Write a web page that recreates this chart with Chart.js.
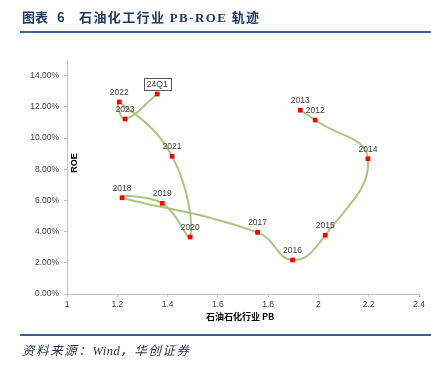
<!DOCTYPE html>
<html>
<head>
<meta charset="utf-8">
<script src="https://cdn.jsdelivr.net/npm/chart.js@4.4.1/dist/chart.umd.min.js"></script>
<style>
  html, body { margin:0; padding:0; background:#fff; }
  #wrap { position:relative; width:431px; height:366px; overflow:hidden; }
  #c { position:absolute; left:0; top:0; }
  .t { position:absolute; white-space:nowrap; font-family:"Noto Sans CJK SC", sans-serif; font-weight:700; font-size:13px; color:#1f3a60; line-height:1; }
  .rule { position:absolute; left:20px; right:0; height:2px; background:#3a5e9c; }
  #src { position:absolute; left:22px; top:344px; white-space:nowrap; font-family:"Noto Sans CJK SC", sans-serif; font-style:italic; font-size:12.5px; letter-spacing:1.6px; color:#1f2d50; line-height:1; }
</style>
</head>
<body>
<div id="wrap">
  <canvas id="c" width="431" height="366"></canvas>
  <div class="t" style="left:22px; top:10px;">图表</div>
  <div class="t" style="left:57px; top:10px;">6</div>
  <div class="t" style="left:79px; top:10px; letter-spacing:1.4px;">石油化工行业 <span style="font-family:'Liberation Serif',serif;">PB-ROE</span> 轨迹</div>
  <div class="rule" style="top:31px;"></div>
  <div class="rule" style="top:334px;"></div>
  <div id="src">资料来源：<span style="font-family:'Liberation Serif',serif; letter-spacing:0.5px;">Wind</span>，华创证券</div>
</div>
<script>
// Point labels (in drawing order of the trajectory)
const pointLabels = ['2013','2012','2014','2015','2016','2017','2018','2019','2020','2021','2022','2023','24Q1'];
// PB (x)
const pbValues = [1.928, 1.987, 2.197, 2.027, 1.897, 1.758, 1.219, 1.379, 1.490, 1.418, 1.208, 1.231, 1.359];
// ROE in percent (y)
const roeValues = [11.78, 11.15, 8.67, 3.76, 2.18, 3.95, 6.17, 5.81, 3.65, 8.83, 12.31, 11.22, 12.82];
// Axis ticks
const xTickValues = [1, 1.2, 1.4, 1.6, 1.8, 2, 2.2, 2.4];
const yTickValues = [0, 2, 4, 6, 8, 10, 12, 14];
const xAxisTitle = '石油石化行业 PB';
const yAxisTitle = 'ROE';
const boxedLabel = '24Q1';

const points = pbValues.map((x, i) => ({ x: x, y: roeValues[i] }));

const labelPlugin = {
  id: 'labels',
  afterDatasetsDraw(chart) {
    const ctx = chart.ctx;
    const meta = chart.getDatasetMeta(0);
    ctx.save();
    ctx.font = '8.5px "Liberation Sans", Arial, sans-serif';
    ctx.textAlign = 'center';
    ctx.textBaseline = 'middle';
    meta.data.forEach((el, i) => {
      const txt = pointLabels[i];
      const x = el.x, y = el.y - 10;
      if (txt === boxedLabel) {
        const w = ctx.measureText(txt).width + 6;
        const h = 12;
        ctx.fillStyle = '#ffffff';
        ctx.fillRect(Math.round(x - w / 2) + 0.5, Math.round(y - h / 2) + 0.5, Math.round(w), h);
        ctx.strokeStyle = '#595959';
        ctx.lineWidth = 1;
        ctx.strokeRect(Math.round(x - w / 2) + 0.5, Math.round(y - h / 2) + 0.5, Math.round(w), h);
      }
      ctx.fillStyle = '#404040';
      ctx.fillText(txt, x, y + 0.5);
    });
    // axis titles
    const xs = chart.scales.x, ys = chart.scales.y;
    ctx.fillStyle = '#000';
    ctx.font = 'bold 9px "Noto Sans CJK SC", sans-serif';
    ctx.fillText(xAxisTitle, (xs.left + xs.right) / 2 - 3, xs.top + 23);
    ctx.save();
    ctx.translate(xs.left + 8, ys.getPixelForValue(8.4));
    ctx.rotate(-Math.PI / 2);
    ctx.font = 'bold 9px "Liberation Sans", Arial, sans-serif';
    ctx.fillText(yAxisTitle, 0, 0);
    ctx.restore();
    ctx.restore();
  }
};

new Chart(document.getElementById('c'), {
  type: 'scatter',
  data: {
    datasets: [{
      data: points,
      showLine: true,
      tension: 0.45,
      borderColor: '#aac681',
      borderWidth: 2,
      pointStyle: 'rect',
      pointRadius: 3.3,
      pointHoverRadius: 3.3,
      pointBackgroundColor: '#ff0000',
      pointBorderColor: '#ff0000',
      pointBorderWidth: 0
    }]
  },
  options: {
    responsive: false,
    animation: false,
    events: [],
    layout: { padding: { left: 0, top: 60, right: 12, bottom: 42 } },
    plugins: { legend: { display: false }, tooltip: { enabled: false } },
    scales: {
      x: {
        type: 'linear',
        min: 1, max: 2.4,
        afterBuildTicks: (s) => { s.ticks = xTickValues.map(v => ({ value: v })); },
        afterFit: (s) => { s.height = 30; },
        ticks: {
          callback: (v) => String(parseFloat(Number(v).toFixed(1))),
          font: { family: '"Liberation Sans", Arial, sans-serif', size: 8.5 },
          color: '#404040',
          padding: 3,
          maxRotation: 0
        },
        grid: { drawOnChartArea: false, drawTicks: true, tickLength: 3, color: '#bfbfbf' },
        border: { display: true, color: '#bfbfbf', width: 1 }
      },
      y: {
        type: 'linear',
        min: 0, max: 15,
        afterBuildTicks: (s) => { s.ticks = yTickValues.map(v => ({ value: v })); },
        afterFit: (s) => { s.width = 67; },
        ticks: {
          callback: (v) => Number(v).toFixed(2) + '%',
          font: { family: '"Liberation Sans", Arial, sans-serif', size: 8.5 },
          color: '#404040',
          padding: 5
        },
        grid: { drawOnChartArea: false, drawTicks: true, tickLength: 3, color: '#bfbfbf' },
        border: { display: true, color: '#bfbfbf', width: 1 }
      }
    }
  },
  plugins: [labelPlugin]
});
</script>
</body>
</html>
